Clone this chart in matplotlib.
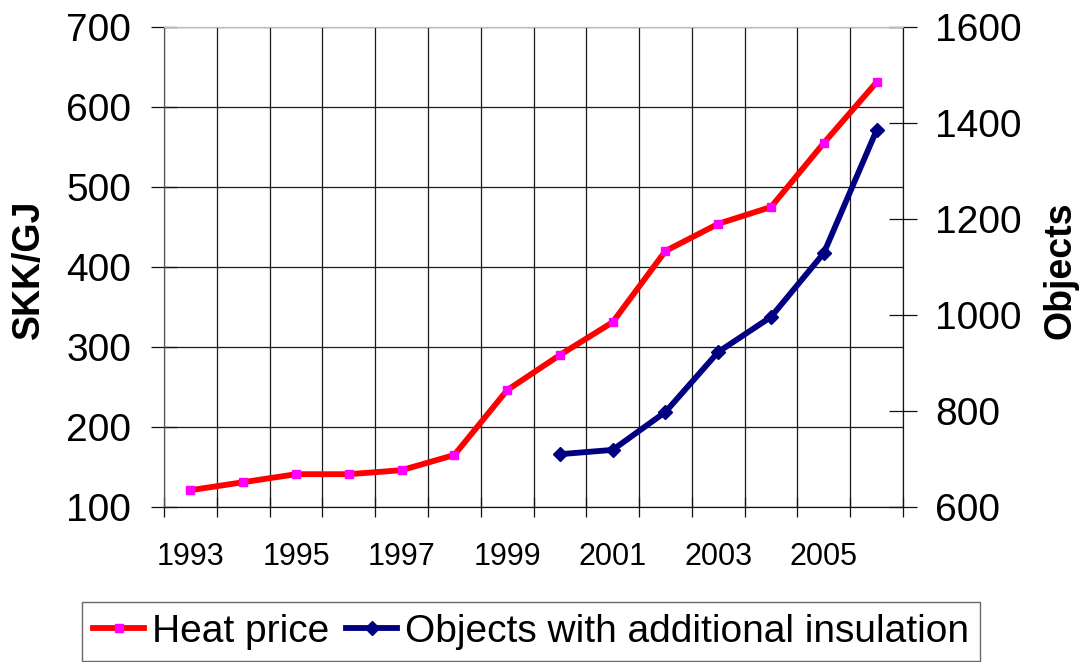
import matplotlib
matplotlib.use("Agg")
import matplotlib.pyplot as plt
import numpy as np

plt.rcParams["font.family"] = ["Liberation Sans", "DejaVu Sans"]

# ─── Data ─────────────────────────────────────────────────────────────────────
years = [1993, 1994, 1995, 1996, 1997, 1998, 1999,
         2000, 2001, 2002, 2003, 2004, 2005, 2006]
heat_price = [121, 131, 141, 141, 146, 165, 246,
              290, 331, 420, 454, 475, 555, 631]

object_years = [2000, 2001, 2002, 2003, 2004, 2005, 2006]
objects = [710, 719, 798, 923, 996, 1129, 1385]

year_labels = [str(y) for y in years[::2]]

# categories sit in the middle of each slot, like an Excel line chart
pos = {y: i + 0.5 for i, y in enumerate(years)}
x_heat = [pos[y] for y in years]
x_obj = [pos[y] for y in object_years]

RED = "#FF0000"
MAGENTA = "#FF00FF"
NAVY = "#000080"
GRID = "#1a1a1a"

fig = plt.figure(figsize=(10.84, 6.62), dpi=100)
ax = fig.add_axes([164 / 1084, 1 - 507 / 662, (903 - 164) / 1084, 480 / 662])
ax2 = ax.twinx()

# ─── Lines ────────────────────────────────────────────────────────────────────
h1, = ax.plot(x_heat, heat_price, color=RED, linewidth=4.2,
              marker="s", markersize=5.5, markerfacecolor=MAGENTA,
              markeredgecolor=MAGENTA, label="Heat price", zorder=3)
h2, = ax2.plot(x_obj, objects, color=NAVY, linewidth=4.2,
               marker="D", markersize=7, markerfacecolor=NAVY,
               markeredgecolor=NAVY,
               label="Objects with additional insulation", zorder=3)

# ─── Axes ─────────────────────────────────────────────────────────────────────
ax.set_xlim(0, len(years))
ax.set_ylim(100, 700)
ax2.set_ylim(600, 1600)

ax.set_yticks(np.arange(100, 701, 100))
ax2.set_yticks(np.arange(600, 1601, 200))

ax.set_xticks(np.arange(0, len(years) + 1))
ax.set_xticklabels([])
ax.set_xticks([pos[y] for y in years[::2]], minor=True)
ax.set_xticklabels(year_labels, minor=True)

ax.grid(True, which="major", color=GRID, linewidth=0.9)
ax.set_axisbelow(True)

ax.tick_params(axis="x", which="major", direction="inout", length=14,
               width=0.9, color="#111111")
ax.tick_params(axis="x", which="minor", length=0, pad=25, labelsize=22)
ax.tick_params(axis="y", direction="inout", length=19, width=0.9,
               color="#111111", pad=14, labelsize=28)
ax2.tick_params(axis="y", direction="inout", length=20, width=0.9,
                color="#111111", pad=13, labelsize=28)

for a in (ax, ax2):
    a.spines["top"].set_color("#bbbbbb")
    a.spines["left"].set_color("#555555")
    a.spines["right"].set_color("#111111")
    a.spines["bottom"].set_color("#111111")

fig.text(29 / 1084, 1 - 269 / 662, "SKK/GJ", rotation=90, fontsize=27,
         fontweight="bold", ha="center", va="center")
fig.text(1060 / 1084, 1 - 270 / 662, "Objects", rotation=90, fontsize=27,
         fontweight="bold", ha="center", va="center")

# ─── Legend ───────────────────────────────────────────────────────────────────
leg = fig.legend(handles=[h1, h2], loc="upper center",
                 bbox_to_anchor=(531 / 1084, 1 - 602 / 662), ncol=2,
                 fontsize=28, frameon=True, fancybox=False,
                 edgecolor="#444444", handlelength=1.3, handletextpad=0.2,
                 columnspacing=0.45, borderpad=0.3, borderaxespad=0)
leg.get_frame().set_linewidth(1.0)

fig.savefig("out.png", dpi=100, facecolor="white")
